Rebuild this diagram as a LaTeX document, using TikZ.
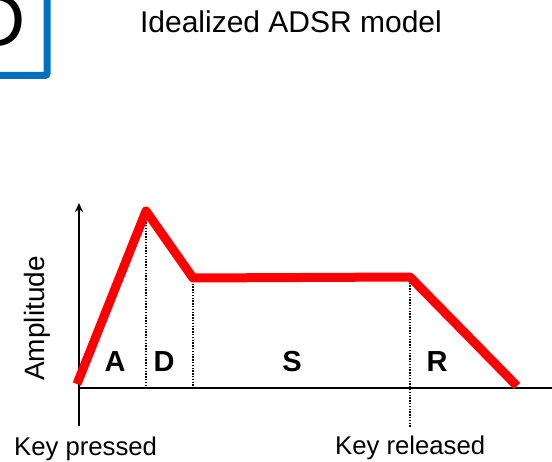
\documentclass[tikz,border=0pt]{standalone}
\usepackage{fontspec}
\setmainfont{Liberation Sans}
\usetikzlibrary{arrows.meta}
\definecolor{boxblue}{RGB}{0,112,192}
\definecolor{envred}{RGB}{255,0,0}
\tikzset{
  axis/.style={line width=1.8pt, black},
  envelope/.style={line width=9pt, envred, line join=round},
  guide/.style={line width=1.5pt, black, dash pattern=on 1.4pt off 1.4pt},
  lbl/.style={inner sep=0pt, anchor=base, font=\fontsize{29}{34}\selectfont\bfseries},
  txt/.style={inner sep=0pt, font=\fontsize{25.7}{30}\selectfont},
}
\begin{document}
\begin{tikzpicture}[x=1pt,y=-1pt]
\useasboundingbox (0,0) rectangle (552,462);
% corner box with D
\draw[boxblue, line width=7pt, rounded corners=2pt] (-30,-30) rectangle (47,75.5);
\node[inner sep=0pt, anchor=base east, font=\fontsize{75}{80}\selectfont] (bigD) at (26,47) {D};
% title
\node[inner sep=0pt, anchor=base, font=\fontsize{30}{35}\selectfont] (title) at (291,33) {Idealized ADSR model};
% axes
\coordinate (ybot) at (79,426);
\coordinate (ytop) at (79,203);
\coordinate (xl) at (79,388);
\coordinate (xr) at (553,388);
\draw[axis, -{Stealth[length=9pt,width=8pt]}] (ybot) -- (ytop);
\draw[axis] (xl) -- (xr);
% envelope points
\coordinate (p0) at (77,384);
\coordinate (p1) at (146,211);
\coordinate (p2) at (193,278);
\coordinate (p3) at (410,277);
\coordinate (p4) at (517,386);
\coordinate (b1) at (146,388);
\coordinate (b2) at (193,388);
\coordinate (b3) at (410,428);
\draw[guide] (p1) -- (b1);
\draw[guide] (p2) -- (b2);
\draw[guide] (p3) -- (b3);
\draw[envelope] (p0) -- (p1) -- (p2) -- (p3) -- (p4);
% phase labels
\node[lbl] (la) at (115,372) {A};
\node[lbl] (ld) at (164,372) {D};
\node[lbl] (ls) at (292,372) {S};
\node[lbl] (lr) at (437,372) {R};
% axis labels
\node[txt, anchor=base, rotate=90, font=\fontsize{28}{32}\selectfont] (amp) at (45,318.5) {Amplitude};
\node[txt, anchor=base west] (kp) at (14,455) {Key pressed};
\node[txt, anchor=base west] (kr) at (335,454) {Key released};
\end{tikzpicture}
\end{document}
